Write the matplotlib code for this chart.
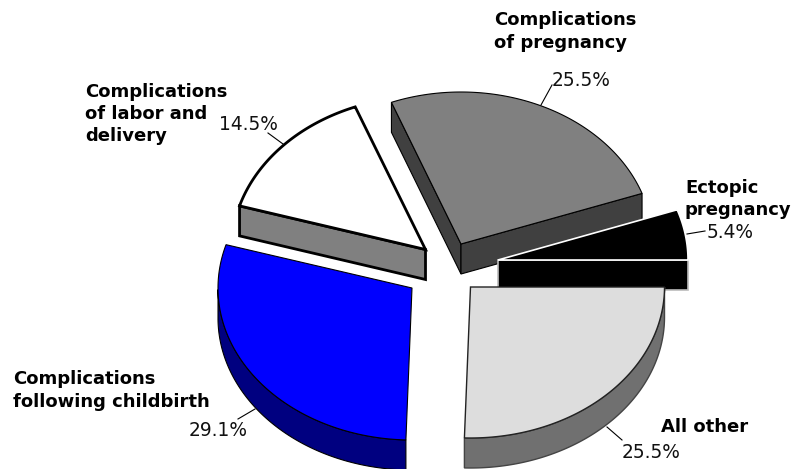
import numpy as np
import matplotlib
matplotlib.use("Agg")
import matplotlib.pyplot as plt
from matplotlib.patches import Polygon

# --- data ---
categories = ["All other", "Complications\nfollowing childbirth",
              "Complications\nof labor and\ndelivery",
              "Complications\nof pregnancy", "Ectopic\npregnancy"]
shares = [25.5, 29.1, 14.5, 25.5, 5.4]
pct_labels = ["25.5%", "29.1%", "14.5%", "25.5%", "5.4%"]

# --- geometry / style (pixel space of the 800x469 canvas) ---
RXS = [194, 194, 194, 192, 190]
RYS = [151, 152, 153, 152, 151]
DEPTH = 30
apexes = [(470.5, 287), (412, 288), (425.5, 249.5), (461, 244), (498, 260)]
tops = ["#DDDDDD", "#0000FF", "#FFFFFF", "#808080", "#000000"]
sides = ["#707070", "#000080", "#808080", "#404040", "#000000"]
edges = ["#222222", "#000000", "#000000", "#000000", "#FFFFFF"]
side_edges = ["#444444", "#000000", "#000000", "#000000", "#BBBBBB"]
widths = [1.0, 0.8, 2.0, 0.8, 1.2]
radial_walls = [[], [], ["start"], ["start", "end"], ["end"]]
name_pos = [(661, 427), (13, 390.5), (85, 114), (494, 31.5), (685, 199)]
pct_pos = [(622, 452), (189, 431), (219, 125), (552, 81), (707, 233)]
leaders = [((622, 440), (607, 427)), ((238, 419), (255, 409)),
           ((268, 133), (283, 144)), ((541, 105), (552, 85)),
           ((687, 234), (705, 231))]
draw_order = [3, 4, 2, 1, 0]

fig = plt.figure(figsize=(8, 4.69), dpi=100)
ax = fig.add_axes([0, 0, 1, 1])
ax.set_xlim(0, 800)
ax.set_ylim(469, 0)
ax.axis("off")

ends = np.cumsum(shares) / np.sum(shares) * 2 * np.pi
starts = np.concatenate([[0], ends[:-1]])


def pt(i, t):
    a = apexes[i]
    return np.column_stack([a[0] + RXS[i] * np.cos(t), a[1] + RYS[i] * np.sin(t)])


for i in draw_order:
    a, t0, t1 = apexes[i], starts[i], ends[i]
    ts = np.linspace(t0, t1, 160)
    arc = pt(i, ts)
    z = 2 * (draw_order.index(i) + 1)
    kw = dict(facecolor=sides[i], edgecolor=side_edges[i], linewidth=widths[i],
              joinstyle="miter", zorder=z)
    # curved wall: only where the rim faces the viewer
    vis = ts[ts <= np.pi]
    if len(vis) > 1:
        rim = pt(i, vis)
        ax.add_patch(Polygon(np.vstack([rim, (rim + [0, DEPTH])[::-1]]), closed=True, **kw))
    # flat cut walls
    for w in radial_walls[i]:
        p = pt(i, np.array([t0 if w == "start" else t1]))[0]
        quad = [a, p, (p[0], p[1] + DEPTH), (a[0], a[1] + DEPTH)]
        ax.add_patch(Polygon(quad, closed=True, **kw))
    # top face
    ax.add_patch(Polygon(np.vstack([[a], arc]), closed=True, facecolor=tops[i],
                         edgecolor=edges[i], linewidth=widths[i],
                         joinstyle="miter", zorder=z + 1))

font = "DejaVu Sans"
for name, (x, y) in zip(categories, name_pos):
    ax.text(x, y, name, family=font, fontsize=13.0, fontweight="bold",
            ha="left", va="center", linespacing=1.32, color="#000000", zorder=30)
for lab, (x, y) in zip(pct_labels, pct_pos):
    ax.text(x, y, lab, family=font, fontsize=13.4, ha="left", va="center",
            color="#111111", zorder=30)
for (p, q) in leaders:
    ax.plot([p[0], q[0]], [p[1], q[1]], color="#000000", lw=0.8, zorder=29)

fig.savefig("out.png", dpi=100, facecolor="white")
